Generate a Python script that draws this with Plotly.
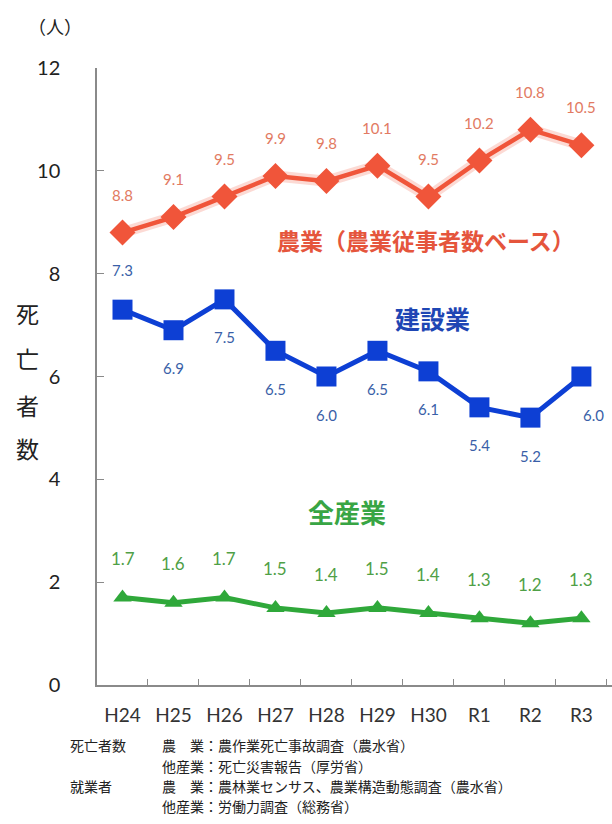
import plotly.graph_objects as go

# Fiscal years (Heisei / Reiwa)
years = ["H24", "H25", "H26", "H27", "H28", "H29", "H30", "R1", "R2", "R3"]

# Deaths per 100,000 workers
agriculture = [8.8, 9.1, 9.5, 9.9, 9.8, 10.1, 9.5, 10.2, 10.8, 10.5]
construction = [7.3, 6.9, 7.5, 6.5, 6.0, 6.5, 6.1, 5.4, 5.2, 6.0]
all_industries = [1.7, 1.6, 1.7, 1.5, 1.4, 1.5, 1.4, 1.3, 1.2, 1.3]

y_ticks = [0, 2, 4, 6, 8, 10, 12]

W, H = 612, 824
L, R, T, B = 97, 0, 68, 139
PW, PH = W - L - R, H - T - B


def px(x):
    return (x - L) / PW


def py(y):
    return (H - B - y) / PH


NUM_FONT = "Lato, 'Noto Sans', sans-serif"
JP_FONT = "'Noto Sans CJK JP', sans-serif"

ORANGE = "#F0553A"
BLUE = "#0D3FD4"
GREEN = "#2FA83A"

fig = go.Figure()

# Agriculture (soft halo under the line)
fig.add_trace(go.Scatter(
    x=years, y=agriculture, mode="lines",
    line=dict(color="rgba(240,85,58,0.22)", width=11),
    hoverinfo="skip", showlegend=False, cliponaxis=False,
))
fig.add_trace(go.Scatter(
    x=years, y=agriculture, mode="lines+markers",
    line=dict(color=ORANGE, width=4.5),
    marker=dict(symbol="diamond", size=20, color=ORANGE),
    showlegend=False, cliponaxis=False,
))

# Construction
fig.add_trace(go.Scatter(
    x=years, y=construction, mode="lines+markers",
    line=dict(color=BLUE, width=5),
    marker=dict(symbol="square", size=20, color=BLUE),
    showlegend=False, cliponaxis=False,
))

# All industries
fig.add_trace(go.Scatter(
    x=years, y=all_industries, mode="lines+markers",
    line=dict(color=GREEN, width=5),
    marker=dict(symbol="triangle-up", size=16, color=GREEN),
    showlegend=False, cliponaxis=False,
))

annotations = []


def value_labels(values, shifts, size, color, xshifts=None):
    for i, (yr, v) in enumerate(zip(years, values)):
        annotations.append(dict(
            x=yr, y=v, xref="x", yref="y", text=f"{v:.1f}",
            showarrow=False, xanchor="center", yanchor="middle",
            yshift=shifts[i], xshift=(xshifts[i] if xshifts else 0),
            font=dict(family=NUM_FONT, size=size, color=color),
        ))


value_labels(agriculture, [38] * 10, 15, "#E27A62")
value_labels(construction, [40] + [-38] * 9, 15, "#3A5FA8",
             xshifts=[0] * 9 + [12])
value_labels(all_industries, [39] * 10, 17, "#4FA046")

# Unit label
annotations.append(dict(
    x=px(55), y=py(26), xref="paper", yref="paper", text="（人）",
    xanchor="center", yanchor="middle",
    showarrow=False, font=dict(family=JP_FONT, size=18, color="#222"),
))

# Vertical y-axis title
for ch, yy in zip("死亡者数", [313, 358, 405, 448]):
    annotations.append(dict(
        x=px(27), y=py(yy), xref="paper", yref="paper", text=ch,
        xanchor="center", yanchor="middle",
        showarrow=False, font=dict(family=JP_FONT, size=23, color="#222"),
    ))

# Series labels
annotations += [
    dict(x=px(426), y=py(240), xref="paper", yref="paper",
         text="<b>農業（農業従事者数ベース）</b>", showarrow=False,
         xanchor="center", yanchor="middle",
         font=dict(family=JP_FONT, size=23, color="#E5553C")),
    dict(x=px(432), y=py(318), xref="paper", yref="paper",
         text="<b>建設業</b>", showarrow=False,
         xanchor="center", yanchor="middle",
         font=dict(family=JP_FONT, size=25, color="#1E46B4")),
    dict(x=px(347), y=py(512), xref="paper", yref="paper",
         text="<b>全産業</b>", showarrow=False,
         xanchor="center", yanchor="middle",
         font=dict(family=JP_FONT, size=26, color="#38A544")),
]

# Source notes
notes = [
    (68, 745, "死亡者数"),
    (160, 745, "農　業：農作業死亡事故調査（農水省）"),
    (160, 766, "他産業：死亡災害報告（厚労省）"),
    (68, 786, "就業者"),
    (160, 786, "農　業：農林業センサス、農業構造動態調査（農水省）"),
    (160, 806, "他産業：労働力調査（総務省）"),
]
for x0, y0, t in notes:
    annotations.append(dict(
        x=px(x0), y=py(y0), xref="paper", yref="paper", text=t,
        xanchor="left", yanchor="middle", showarrow=False,
        font=dict(family=JP_FONT, size=14, color="#222"),
    ))

fig.update_layout(
    width=W, height=H,
    margin=dict(l=L, r=R, t=T, b=B, pad=0),
    paper_bgcolor="white", plot_bgcolor="white",
    annotations=annotations,
    xaxis=dict(
        type="category", range=[-0.5, 9.6],
        showgrid=False, zeroline=False,
        showline=True, linecolor="#8a8a8a", linewidth=1.5,
        ticks="inside", ticklen=6, tickcolor="#8a8a8a",
        tickson="boundaries",
        tickfont=dict(family=NUM_FONT, size=19, color="#333"),
        ticklabelstandoff=12,
    ),
    yaxis=dict(
        range=[0, 12], tickvals=y_ticks,
        showgrid=False, zeroline=False,
        showline=True, linecolor="#8a8a8a", linewidth=1.5,
        ticks="inside", ticklen=7, tickcolor="#8a8a8a",
        tickfont=dict(family=NUM_FONT, size=20, color="#222"),
        ticklabelstandoff=31,
    ),
)

fig.write_html("out.html")
